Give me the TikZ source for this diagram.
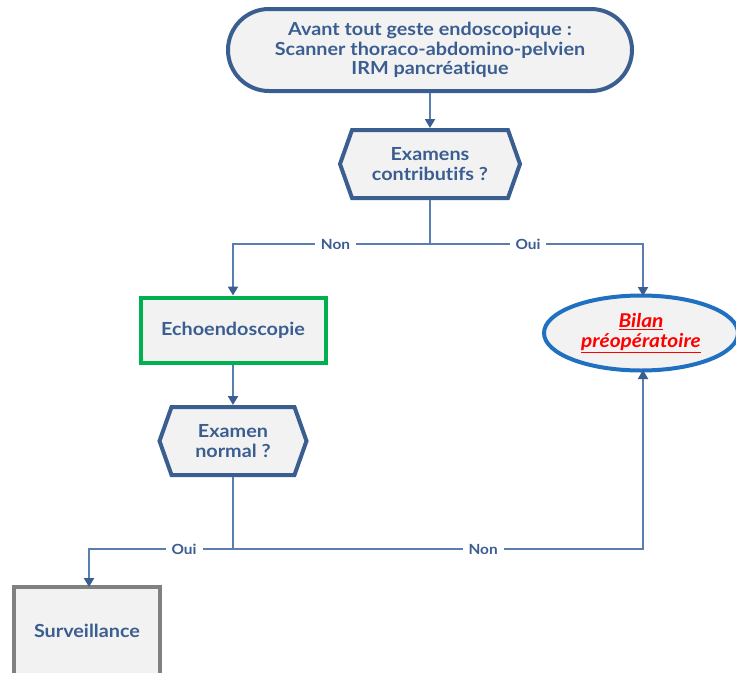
\documentclass[tikz,border=0pt]{standalone}
\usepackage{fontspec}
\setmainfont{Lato}[FakeStretch=1.1,Ligatures={NoCommon,NoRare}]
\usetikzlibrary{shapes.symbols,shapes.misc,shapes.geometric,arrows.meta}
\definecolor{navy}{HTML}{3B5E91}
\definecolor{wire}{HTML}{5B7EB0}
\definecolor{paper}{HTML}{F2F2F2}
\definecolor{okgreen}{HTML}{00B050}
\definecolor{ovalblue}{HTML}{1F70C0}
\definecolor{frame}{HTML}{808080}
\begin{document}
\begin{tikzpicture}[x=1pt,y=-1pt,
  txt/.style={text=navy,font=\bfseries\fontsize{18}{19.5}\selectfont,align=center},
  boxbase/.style={txt,fill=paper,line width=4pt,inner sep=0pt},
  startbox/.style={boxbase,draw=navy,rounded rectangle,minimum width=404pt,minimum height=82pt},
  testbox/.style={boxbase,draw=navy,signal,signal to=east and west,signal pointer angle=141,minimum width=#1,minimum height=68pt},
  greenbox/.style={boxbase,draw=okgreen,rectangle,minimum width=185pt,minimum height=65pt},
  ovalbox/.style={boxbase,draw=ovalblue,ellipse,minimum width=194pt,minimum height=75pt},
  greybox/.style={boxbase,draw=frame,rectangle,minimum width=146pt,minimum height=90pt},
  wireline/.style={draw=wire,line width=2pt},
  arrowline/.style={wireline,-{Triangle[length=9pt,width=10pt,fill=navy,color=navy]}},
  lbl/.style={fill=white,text=navy,font=\bfseries\fontsize{14}{14}\selectfont,inner xsep=6pt,inner ysep=2pt}
]
\useasboundingbox (0,0) rectangle (736,672);
\clip (0,0) rectangle (736,672);

% boxes
\node[startbox] (start) at (430,50) {Avant tout geste endoscopique :\\Scanner thoraco-abdomino-pelvien\\IRM pancréatique};
\node[testbox=180pt] (q1) at (430,164) {Examens\\contributifs ?};
\node[greenbox] (echo) at (233,330) {Echoendoscopie};
\node[ovalbox,text=red,font=\bfseries\itshape\fontsize{19}{20}\selectfont] (bilan) at (641,333) {\underline{Bilan}\\\underline{préopératoire}};
\node[testbox=147pt] (q2) at (233,441) {Examen\\normal ?};
\node[greybox] (surv) at (87,632) {\raisebox{3pt}{Surveillance}};

% junctions
\coordinate (j1) at (430,244);
\coordinate (j2) at (233,549);
\coordinate (bilanin) at (643,296);
\coordinate (bilanout) at (643,370);
\coordinate (survin) at (89,587);

% connectors
\draw[arrowline] (start.south) -- (q1.north);
\draw[wireline] (q1.south) -- (j1);
\draw[arrowline] (j1) -| node[lbl,pos=0.24] {Non} (echo.north);
\draw[arrowline] (j1) -| node[lbl,pos=0.23] {Oui} (bilanin);
\draw[arrowline] (echo.south) -- (q2.north);
\draw[wireline] (q2.south) -- (j2);
\draw[arrowline] (j2) -| node[lbl,pos=0.17] {Oui} (survin);
\draw[arrowline] (j2) -| node[lbl,pos=0.305] {Non} (bilanout);
\end{tikzpicture}
\end{document}
